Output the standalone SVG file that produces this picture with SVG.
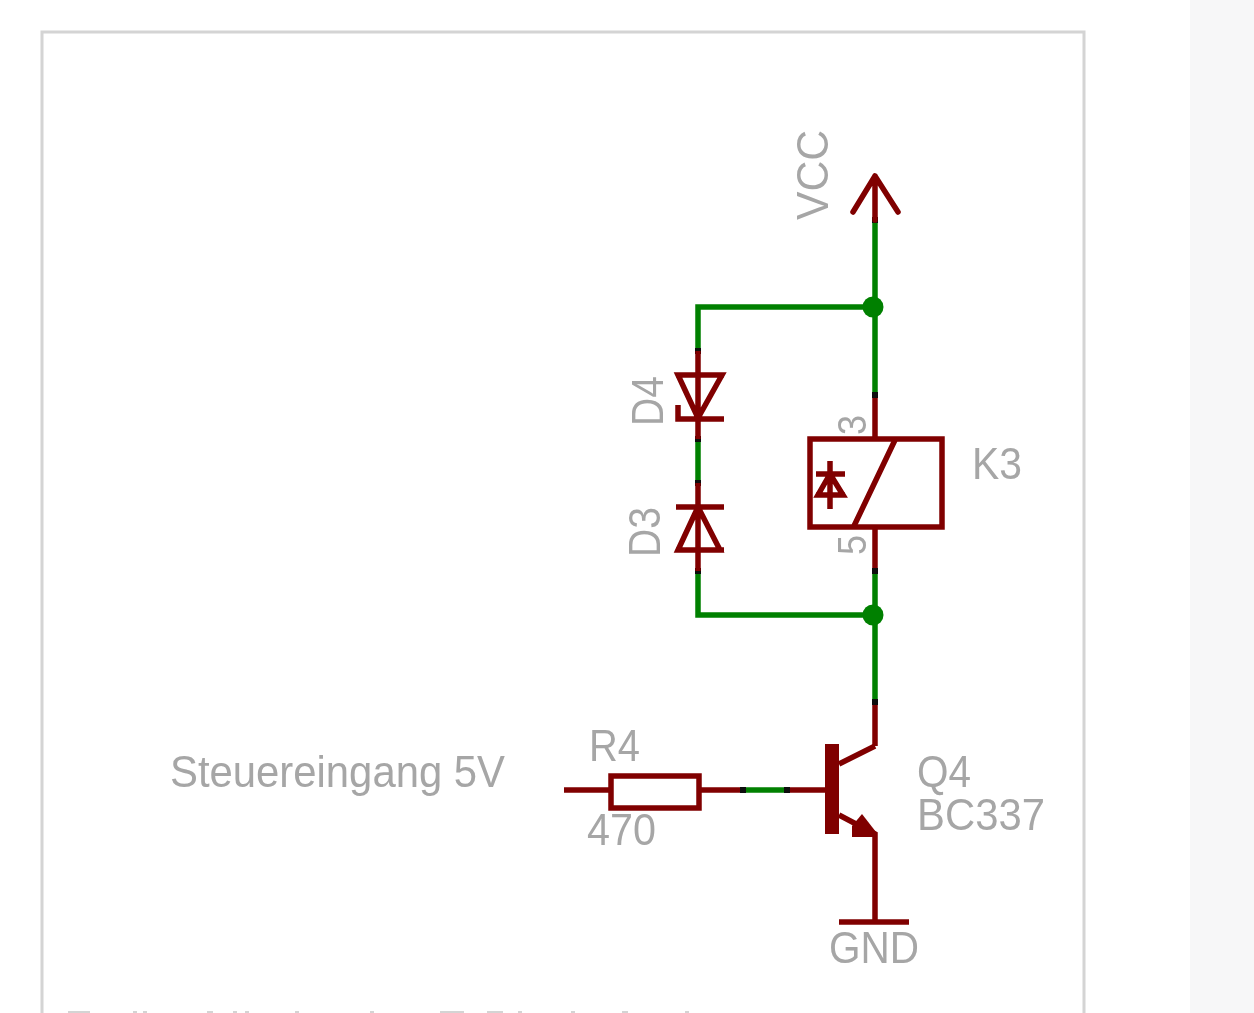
<svg xmlns="http://www.w3.org/2000/svg" width="1254" height="1013" viewBox="0 0 1254 1013">
<style>
.w{fill:none;stroke:#008000;stroke-width:5.500}
.r{fill:none;stroke:#800000;stroke-width:5.500}
.rj{stroke-linejoin:round;stroke-linecap:round}
.t{font-family:"Liberation Sans",Arial,sans-serif;font-size:44px;fill:#a6a6a6;font-weight:400}
.s{font-size:40px}
.j{fill:#101010}
.c{fill:#d4d4d4}
</style>
<defs><filter id="soft" x="0" y="0" width="100%" height="100%" filterUnits="objectBoundingBox"><feGaussianBlur stdDeviation="0.6"/></filter></defs>
<rect width="1254" height="1013" fill="#fff"/>
<rect x="1190" y="0" width="64" height="1013" fill="#f7f7f8"/>
<g filter="url(#soft)">
<rect width="1254" height="1013" fill="none"/>
<path d="M42 1014V32H1084V1014" fill="none" stroke="#d4d4d4" stroke-width="3"/>
<path class="c" d="M68 1011h22v3h-22zM133 1011h4v3h-4zM143 1011h4v3h-4zM207 1011h6v3h-6zM233 1011h4v3h-4zM245 1011h4v3h-4zM295 1011h4v3h-4zM370 1011h4v3h-4zM440 1011h24v3h-24zM487 1011h16v3h-16zM518 1011h4v3h-4zM571 1011h4v3h-4zM622 1011h6v3h-6zM685 1011h4v3h-4z"/>
<g id="connectors">
<path class="w" d="M875 220V396M875 307H698V351M698 440V483M698 571V615H875M875 572V702M743 790H787"/>
<circle cx="873" cy="307" r="10.500" fill="#008000"/>
<circle cx="873" cy="615" r="10.500" fill="#008000"/>
<path class="r" d="M875 396V439M875 527V571M875 702V746M564 790H610M700 790H743M787 790H825"/>
<path d="M872 217h6v6h-6zM872 392h6v6h-6zM872 568h6v6h-6zM872 699h6v6h-6zM695 348h6v6h-6zM695 436h6v6h-6zM695 480h6v6h-6zM695 568h6v6h-6zM740 787h6v6h-6zM784 787h6v6h-6z" class="j"/>
</g>
<g id="VCC">
<path class="r rj" d="M875 220V176M853 212L875 176L898 212"/>
<text class="t" transform="translate(828 220) rotate(-90)" textLength="90" lengthAdjust="spacingAndGlyphs">VCC</text>
</g>
<g id="D4">
<path class="r" d="M698 351V439M678 375H722L698 418ZM678 405V419H724M676 375H724"/>
<text class="t" transform="translate(663 426) rotate(-90)" textLength="50" lengthAdjust="spacingAndGlyphs">D4</text>
</g>
<g id="D3">
<path class="r" d="M698 483V571M676 507H724M698 507L678 550H720ZM676 550H724"/>
<text class="t" transform="translate(660 557) rotate(-90)" textLength="50" lengthAdjust="spacingAndGlyphs">D3</text>
</g>
<g id="K3">
<rect class="r" x="810" y="439" width="132" height="88"/>
<path class="r" d="M895 440L854 526M830 461V509M816 474H845M830 474L818 495H843ZM816 495H845"/>
<text class="t" x="972" y="479" textLength="50" lengthAdjust="spacingAndGlyphs">K3</text>
<text class="t s" transform="translate(866 435) rotate(-90)" textLength="20" lengthAdjust="spacingAndGlyphs">3</text>
<text class="t s" transform="translate(866 555) rotate(-90)" textLength="20" lengthAdjust="spacingAndGlyphs">5</text>
</g>
<g id="R4">
<rect class="r" x="611" y="776" width="88" height="32"/>
<text class="t" x="589" y="761" textLength="51" lengthAdjust="spacingAndGlyphs">R4</text>
<text class="t" x="587" y="845" textLength="69" lengthAdjust="spacingAndGlyphs">470</text>
</g>
<g id="Q4">
<rect x="825" y="744" width="14" height="90" fill="#800000"/>
<path class="r" d="M839 764L875 746M839 815L875 834V922"/>
<path d="M852 837V826L862 814L876 832V837Z" fill="#800000"/>
<text class="t" x="917" y="787" textLength="54" lengthAdjust="spacingAndGlyphs">Q4</text>
<text class="t" x="917" y="830" textLength="128" lengthAdjust="spacingAndGlyphs">BC337</text>
</g>
<g id="GND">
<path class="r" d="M839 922H909"/>
<text class="t" x="829" y="963" textLength="90" lengthAdjust="spacingAndGlyphs">GND</text>
</g>
<g id="Steuereingang">
<text class="t" x="170" y="787" textLength="335" lengthAdjust="spacingAndGlyphs">Steuereingang 5V</text>
</g>
</g>
</svg>
